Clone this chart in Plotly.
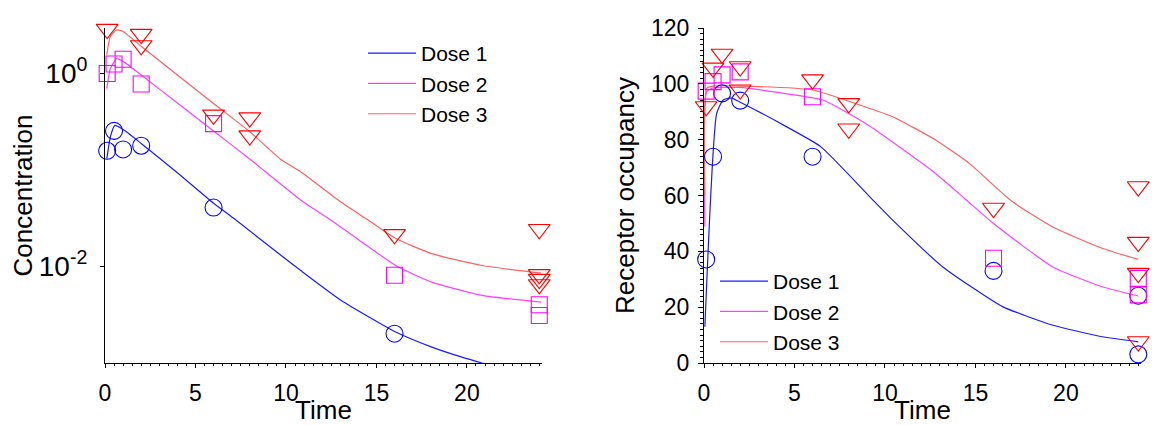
import plotly.graph_objects as go

# ---------------- data: concentration (left panel) ----------------
d1_conc_t = [0.12, 0.5, 1, 2, 6, 16]
d1_conc = [0.157, 0.252, 0.162, 0.177, 0.0406, 0.00201]
d2_conc_t = [0.12, 0.5, 1, 2, 6, 16, 24, 24]
d2_conc = [0.99, 1.24, 1.39, 0.77, 0.30, 0.0081, 0.0040, 0.0031]
d3_conc_t = [0.12, 0.5, 2, 2, 6, 8, 8, 16, 24, 24, 24, 24]
d3_conc = [2.85, 2.95, 2.53, 1.93, 0.369, 0.346, 0.225, 0.0214, 0.0242, 0.00826, 0.00738, 0.0065]

fit1_conc_t = [0.1, 0.3, 0.55, 1.2, 2, 4, 6, 7.13, 9.72, 10.8, 13.06, 16.07, 18.06, 19.72, 20.83, 24]
fit1_conc = [0.13, 0.22, 0.287, 0.246, 0.187, 0.093, 0.045, 0.0312, 0.013, 0.0091, 0.00444,
             0.00209, 0.00146, 0.00115, 0.00100, 0.00065]
fit2_conc_t = [0.1, 0.3, 0.65, 1, 2, 4, 6, 8, 10.83, 12.5, 14, 16.07, 18.06, 20.83, 24.1]
fit2_conc = [0.69, 1.12, 1.41, 1.32, 0.955, 0.49, 0.251, 0.129, 0.0483, 0.030, 0.019, 0.0102,
             0.00687, 0.0050, 0.00427]
fit3_conc_t = [0.1, 0.3, 0.65, 1, 2, 4, 6, 8, 9.72, 10.83, 12.9, 14.5, 16.07, 18.06, 20.83, 24.1]
fit3_conc = [1.54, 2.40, 2.79, 2.69, 1.89, 0.955, 0.485, 0.247, 0.1276, 0.0949, 0.0483, 0.0305,
             0.0194, 0.01355, 0.0102, 0.0085]

# ---------------- data: receptor occupancy (right panel) ----------------
d1_occ_t = [0.12, 0.5, 1, 2, 6, 16, 24, 24]
d1_occ = [37.1, 73.9, 96.6, 94.0, 73.9, 33.0, 24.1, 3.1]
d2_occ_t = [0.12, 0.5, 1, 2, 6, 16, 24, 24]
d2_occ = [97.4, 100.8, 103.2, 104.3, 95.4, 37.5, 30.3, 24.4]
d3_occ_t = [0.12, 0.5, 1, 2, 2, 6, 8, 8, 16, 24, 24, 24, 24]
d3_occ = [91.9, 105.7, 110.7, 106.2, 97.9, 101.5, 93.0, 83.9, 55.5, 63.2, 43.3, 32.2, 7.7]

fit1_occ_t = [0.05, 0.7, 1.06, 1.5, 1.95, 4.37, 6.45, 9.15, 10.3, 13.18, 16.5, 19.25, 22.0, 24]
fit1_occ = [13, 89.4, 94.2, 95, 93.6, 85.3, 77.5, 59.6, 52, 34.5, 20.2, 13.6, 9.4, 7.6]
fit2_occ_t = [0.05, 0.15, 0.5, 2, 4, 6.57, 9.15, 12.8, 14.5, 16.0, 19.25, 22, 24]
fit2_occ = [48.8, 97.2, 98.5, 98.7, 97, 94.2, 84.9, 67.9, 58.4, 50, 34.5, 27.3, 24]
fit3_occ_t = [0.05, 0.15, 0.5, 2, 6, 9.15, 10.43, 12.8, 14.66, 17.0, 19.25, 22, 24]
fit3_occ = [60, 98.4, 99.2, 99.2, 97.8, 91.2, 88.2, 79.9, 71.5, 58.0, 48.8, 41.1, 37.1]

names = ["Dose 1", "Dose 2", "Dose 3"]
marker_colors = ["#0000ff", "#ff00ff", "#ff0000"]
line_colors = ["#1a1aff", "#ff40ff", "#ff6060"]
symbols = ["circle-open", "square-open", "triangle-down-open"]
sizes = [17, 16, 19]

FONT = "Liberation Sans, Arial, sans-serif"
OFF = 8  # browser body margin

fig = go.Figure()

obs_left = [(d1_conc_t, d1_conc), (d2_conc_t, d2_conc), (d3_conc_t, d3_conc)]
fit_left = [(fit1_conc_t, fit1_conc), (fit2_conc_t, fit2_conc), (fit3_conc_t, fit3_conc)]
obs_right = [(d1_occ_t, d1_occ), (d2_occ_t, d2_occ), (d3_occ_t, d3_occ)]
fit_right = [(fit1_occ_t, fit1_occ), (fit2_occ_t, fit2_occ), (fit3_occ_t, fit3_occ)]

for i in range(3):
    fig.add_trace(go.Scatter(x=fit_left[i][0], y=fit_left[i][1], mode="lines", name=names[i],
                             line=dict(color=line_colors[i], width=1.2, shape="spline", smoothing=0.5),
                             xaxis="x", yaxis="y", legend="legend"))
for i in range(3):
    fig.add_trace(go.Scatter(x=obs_left[i][0], y=obs_left[i][1], mode="markers", showlegend=False,
                             marker=dict(symbol=symbols[i], size=sizes[i], color=marker_colors[i],
                                         line=dict(width=1.1, color=marker_colors[i])),
                             cliponaxis=False, xaxis="x", yaxis="y"))
for i in range(3):
    fig.add_trace(go.Scatter(x=fit_right[i][0], y=fit_right[i][1], mode="lines", name=names[i],
                             line=dict(color=line_colors[i], width=1.2, shape="spline", smoothing=0.5),
                             xaxis="x2", yaxis="y2", legend="legend2"))
for i in range(3):
    fig.add_trace(go.Scatter(x=obs_right[i][0], y=obs_right[i][1], mode="markers", showlegend=False,
                             marker=dict(symbol=symbols[i], size=sizes[i], color=marker_colors[i],
                                         line=dict(width=1.1, color=marker_colors[i])),
                             cliponaxis=False, xaxis="x2", yaxis="y2"))

W, H = 1159 - OFF, 425 - OFF
TOP, BOT = 28 - OFF, 363 - OFF
PH = BOT - TOP


def px_x(v):
    return (v - OFF) / W


def px_y(v):
    return 1 - ((v - OFF) - TOP) / PH


common_x = dict(range=[0, 24.15], tickvals=[0, 5, 10, 15, 20], showline=True, linecolor="black",
                linewidth=1, ticks="outside", ticklen=4, tickcolor="black", showgrid=False,
                zeroline=False, tickfont=dict(size=23, color="black"), ticklabelstandoff=5,
                automargin=False,
                minor=dict(dtick=0.5, ticks="outside", ticklen=2, tickcolor="black"),
                title=dict(text="Time", font=dict(size=26, color="black"), standoff=0))

fig.update_layout(
    width=W, height=H,
    margin=dict(l=0, r=0, t=TOP, b=H - BOT),
    paper_bgcolor="white", plot_bgcolor="white",
    font=dict(family=FONT, color="black"),
    xaxis=dict(domain=[px_x(105), px_x(542)], anchor="y", **common_x),
    xaxis2=dict(domain=[px_x(704), px_x(1141)], anchor="y2", **common_x),
    yaxis=dict(type="log", range=[-3, 0.466], tickvals=[1, 0.01],
               ticktext=["10<sup>0</sup>", "10<sup>-2</sup>"], showline=True, linecolor="black",
               linewidth=1, ticks="outside", ticklen=4, tickcolor="black", showgrid=False,
               zeroline=False, tickfont=dict(size=28, color="black"), anchor="x",
               ticklabelstandoff=7, automargin=False,
               title=dict(text="Concentration", font=dict(size=26, color="black"), standoff=12)),
    yaxis2=dict(range=[0, 120], dtick=20, showline=True, linecolor="black", linewidth=1,
                ticks="outside", ticklen=5, tickcolor="black", showgrid=False, zeroline=False,
                tickfont=dict(size=23, color="black"), anchor="x2", ticklabelstandoff=4,
                automargin=False,
                minor=dict(dtick=2, ticks="outside", ticklen=3, tickcolor="black"),
                title=dict(text="Receptor occupancy", font=dict(size=26, color="black"), standoff=8)),
    legend=dict(x=px_x(363), y=px_y(33), xref="paper", yref="paper", xanchor="left",
                yanchor="top", bgcolor="rgba(0,0,0,0)", font=dict(size=21, color="black"),
                itemwidth=48, tracegroupgap=0),
    legend2=dict(x=px_x(715), y=px_y(261), xref="paper", yref="paper", xanchor="left",
                 yanchor="top", bgcolor="rgba(0,0,0,0)", font=dict(size=21, color="black"),
                 itemwidth=48, tracegroupgap=0),
)

fig.write_html("out.html")
